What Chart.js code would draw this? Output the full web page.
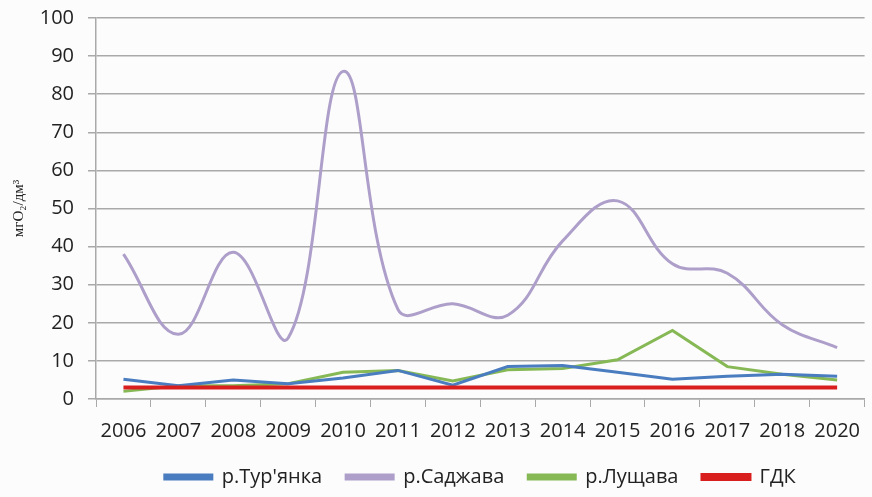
<!DOCTYPE html>
<html>
<head>
<meta charset="utf-8">
<script src="https://cdn.jsdelivr.net/npm/chart.js@4"></script>
<style>
  html, body { margin: 0; padding: 0; background: #fcfcfc; }
  #wrap { width: 872px; height: 497px; }
</style>
</head>
<body>
<div id="wrap"><canvas id="myChart"></canvas></div>
<script>
//----------------------
// Data
//----------------------

const years = ['2006', '2007', '2008', '2009', '2010', '2011', '2012', '2013', '2014', '2015', '2016', '2017', '2018', '2020'];
const turyanka = [5.2, 3.5, 5, 4, 5.5, 7.5, 3.6, 8.5, 8.8, 7, 5.2, 6, 6.5, 6];
const sadzhava = [38, 17, 38.5, 16, 86, 23.5, 25, 22, 41.5, 52, 35.5, 33, 19.5, 13.5];
const lushchava = [2, 3.5, 3.5, 4, 7, 7.5, 4.7, 7.7, 8, 10.3, 18, 8.5, 6.5, 5];
const gdk = [3, 3, 3, 3, 3, 3, 3, 3, 3, 3, 3, 3, 3, 3];
const yTicks = [0, 10, 20, 30, 40, 50, 60, 70, 80, 90, 100];

const gridColor = '#a9a9a9';
const textColor = '#222222';

//----------------------
// Chart
//----------------------

var ctx = document.getElementById('myChart').getContext('2d');
var chart = new Chart(ctx, {
    type: 'line',
    data: {
        labels: years,
        datasets: [{
            label: "р.Тур'янка",
            data: turyanka,
            borderColor: '#4a7cc0',
            backgroundColor: '#4a7cc0',
            borderWidth: 3,
            tension: 0,
            order: 1
        }, {
            label: 'р.Саджава',
            data: sadzhava,
            borderColor: '#ad9fca',
            backgroundColor: '#ad9fca',
            borderWidth: 3,
            tension: 0.4,
            order: 3
        }, {
            label: 'р.Лущава',
            data: lushchava,
            borderColor: '#86b955',
            backgroundColor: '#86b955',
            borderWidth: 3,
            tension: 0,
            order: 2
        }, {
            label: 'ГДК',
            data: gdk,
            borderColor: '#d91e1e',
            backgroundColor: '#d91e1e',
            borderWidth: 4,
            tension: 0,
            order: 0
        }]
    },
    options: {
        responsive: true,
        maintainAspectRatio: false,
        animation: false,
        elements: { point: { radius: 0, hoverRadius: 0 } },
        layout: { padding: { top: 6, right: 0, left: 0, bottom: 0 } },
        plugins: {
            tooltip: { enabled: false },
            legend: {
                position: 'bottom',
                fullSize: false,
                labels: {
                    sort: (a, b) => a.datasetIndex - b.datasetIndex,
                    boxWidth: 47,
                    boxHeight: 4,
                    padding: 24,
                    color: textColor,
                    font: { family: 'Open Sans', size: 20, lineHeight: 1 }
                }
            }
        },
        scales: {
            x: {
                offset: true,
                grid: {
                    offset: true,
                    drawOnChartArea: false,
                    drawTicks: true,
                    tickLength: 8,
                    color: gridColor
                },
                border: { display: true, color: gridColor, width: 1.5 },
                ticks: {
                    autoSkip: false,
                    maxRotation: 0,
                    minRotation: 0,
                    padding: 12,
                    color: textColor,
                    font: { family: 'Open Sans', size: 20 }
                },
                afterFit: (scale) => { scale.height = 44; }
            },
            y: {
                min: 0,
                max: 100,
                afterBuildTicks: (scale) => { scale.ticks = yTicks.map(v => ({ value: v })); },
                grid: {
                    color: gridColor,
                    lineWidth: 1.5,
                    tickLength: 8
                },
                border: { display: true, color: gridColor, width: 1.5 },
                ticks: {
                    padding: 14,
                    color: textColor,
                    font: { family: 'Open Sans', size: 20, lineHeight: 0.4 }
                },
                title: {
                    display: true,
                    text: 'мгО₂/дм³',
                    color: textColor,
                    padding: { top: 10, bottom: 0 },
                    font: { family: 'Liberation Serif', size: 15 }
                },
                afterFit: (scale) => { scale.width = 96; }
            }
        }
    }
});
</script>
</body>
</html>
